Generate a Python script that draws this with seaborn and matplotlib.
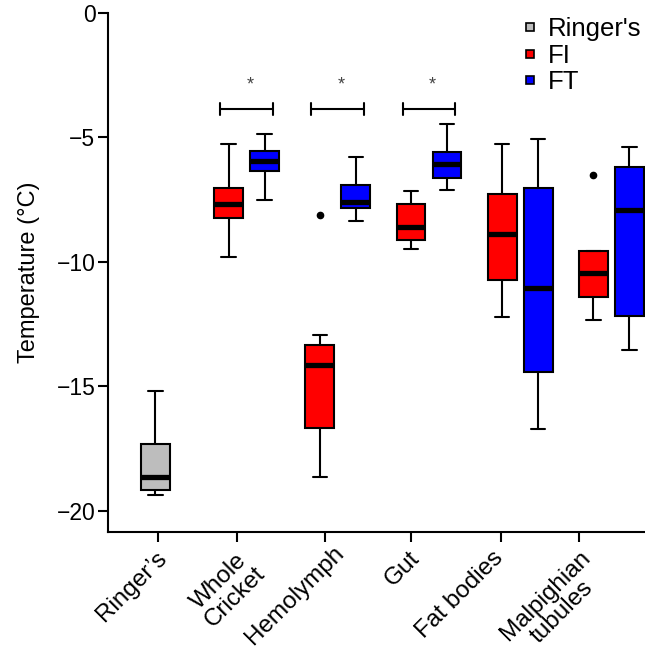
import matplotlib
matplotlib.use("Agg")
import matplotlib.pyplot as plt
import matplotlib.transforms as mtransforms
from matplotlib.lines import Line2D
import numpy as np
import pandas as pd
import seaborn as sns

# ---- data ----
tissues = ["Ringer\u2019s", "Whole\nCricket", "Hemolymph", "Gut", "Fat bodies", "Malpighian\ntubules"]
treatments = ["Ringer's", "FI", "FT"]

ringers = [-19.37, -19.19, -18.65, -17.34, -15.2]
whole_fi = [-9.81, -8.27, -7.69, -7.04, -5.29]
whole_ft = [-7.53, -6.37, -5.96, -5.55, -4.88]
hemo_fi = [-18.65, -17.6, -16.7, -15.2, -14.16, -13.7, -13.35, -12.95, -8.15]
hemo_ft = [-8.36, -7.85, -7.6, -6.94, -5.82]
gut_fi = [-9.49, -9.14, -8.63, -7.69, -7.16]
gut_ft = [-7.13, -6.63, -6.07, -5.6, -4.47]
fat_fi = [-12.23, -10.76, -8.91, -7.29, -5.29]
fat_ft = [-16.73, -14.43, -11.05, -7.04, -5.09]
malp_fi = [-12.34, -11.9, -11.43, -10.9, -10.45, -10.0, -9.58, -9.58, -6.53]
malp_ft = [-13.55, -12.19, -7.94, -6.21, -5.41]
sig_groups = ["Whole\nCricket", "Hemolymph", "Gut"]

colors = {"Ringer's": "#bdbdbd", "FI": "#ff0000", "FT": "#0000ff"}

rows = [(tissues[0], "Ringer's", v) for v in ringers]
pairs = [(tissues[1], whole_fi, whole_ft), (tissues[2], hemo_fi, hemo_ft),
         (tissues[3], gut_fi, gut_ft), (tissues[4], fat_fi, fat_ft),
         (tissues[5], malp_fi, malp_ft)]
for t, fi, ft in pairs:
    rows += [(t, "FI", v) for v in fi]
    rows += [(t, "FT", v) for v in ft]
df = pd.DataFrame(rows, columns=["tissue", "treatment", "temp"])

# ---- style ----
sns.set_style("ticks")
plt.rcParams["font.family"] = ["Liberation Sans", "DejaVu Sans"]
plt.rcParams["text.color"] = "black"
plt.rcParams["axes.labelcolor"] = "black"
plt.rcParams["xtick.color"] = "black"
plt.rcParams["ytick.color"] = "black"

fig = plt.figure(figsize=(6.45, 6.52), dpi=100)
ax = fig.add_axes([108 / 645, 120 / 652, 549 / 645, 519.5 / 652])

lw = 1.5
box_kw = dict(linecolor="black", linewidth=lw,
              medianprops=dict(color="black", linewidth=3.8),
              flierprops=dict(marker="o", markerfacecolor="black",
                              markeredgecolor="black", markersize=4.5))

sns.boxplot(data=df[df.treatment == "Ringer's"], x="tissue", y="temp",
            order=tissues, color=colors["Ringer's"], width=0.32,
            saturation=1, ax=ax, **box_kw)
sns.boxplot(data=df[df.treatment != "Ringer's"], x="tissue", y="temp",
            order=tissues, hue="treatment", hue_order=["FI", "FT"],
            palette=colors, width=0.79, gap=0.2, saturation=1,
            legend=False, ax=ax, **box_kw)

# significance brackets
for g in sig_groups:
    i = tissues.index(g)
    yb = -3.88
    ax.plot([i - 0.29, i + 0.29], [yb, yb], color="black", lw=lw, solid_capstyle="butt")
    for xe in (i - 0.29, i + 0.29):
        ax.plot([xe, xe], [yb - 0.24, yb + 0.24], color="black", lw=lw)
    ax.text(i + 0.04, -2.9, "*", ha="center", va="center", fontsize=13, color="#444444")

ax.set_xlim(-0.52, 5.5)
ax.set_ylim(-20.86, 0)
ax.set_yticks([0, -5, -10, -15, -20])
ax.set_yticklabels(["0", "\u22125", "\u221210", "\u221215", "\u221220"])
tick_offsets = [0.03, -0.10, -0.14, -0.20, -0.21, -0.35]
xticks = [i + o for i, o in enumerate(tick_offsets)]
ax.set_xticks(xticks)
ax.set_xticklabels([])
ax.tick_params(axis="y", labelsize=16.5, length=7, width=lw, pad=2, color="black")
ax.tick_params(axis="x", length=7.5, width=lw, color="black")

# rotated category labels drawn as text, anchored under each tick
label_shift_px = [(-3, 0), (0, 0), (8, 5), (-2, 0), (-9, 0), (0, 0)]
base = mtransforms.blended_transform_factory(ax.transData, ax.transAxes)
for xt, lab, (dx, dy) in zip(xticks, tissues, label_shift_px):
    off = mtransforms.ScaledTranslation(dx / 100, (dy - 15) / 100, fig.dpi_scale_trans)
    ax.text(xt, 0, lab, transform=base + off, rotation=45, ha="right", va="top",
            rotation_mode="anchor", fontsize=17.5, multialignment="center",
            linespacing=1.05, clip_on=False)

ax.set_xlabel("")
ax.set_ylabel("Temperature (\u00b0C)", fontsize=17, labelpad=12)
sns.despine(ax=ax)
for s in ("left", "bottom"):
    ax.spines[s].set_linewidth(lw)
    ax.spines[s].set_color("black")

handles = [Line2D([], [], marker="s", linestyle="none", markersize=6,
                  markerfacecolor=colors[t], markeredgecolor="black",
                  markeredgewidth=1.2) for t in treatments]
fig.legend(handles, treatments, loc="upper left", bbox_to_anchor=(522 / 645, 1 - 17 / 652),
           frameon=False, fontsize=18.5, handlelength=0.6, handletextpad=0.4,
           labelspacing=0.1, borderpad=0, borderaxespad=0)

fig.savefig("out.png", dpi=100)
